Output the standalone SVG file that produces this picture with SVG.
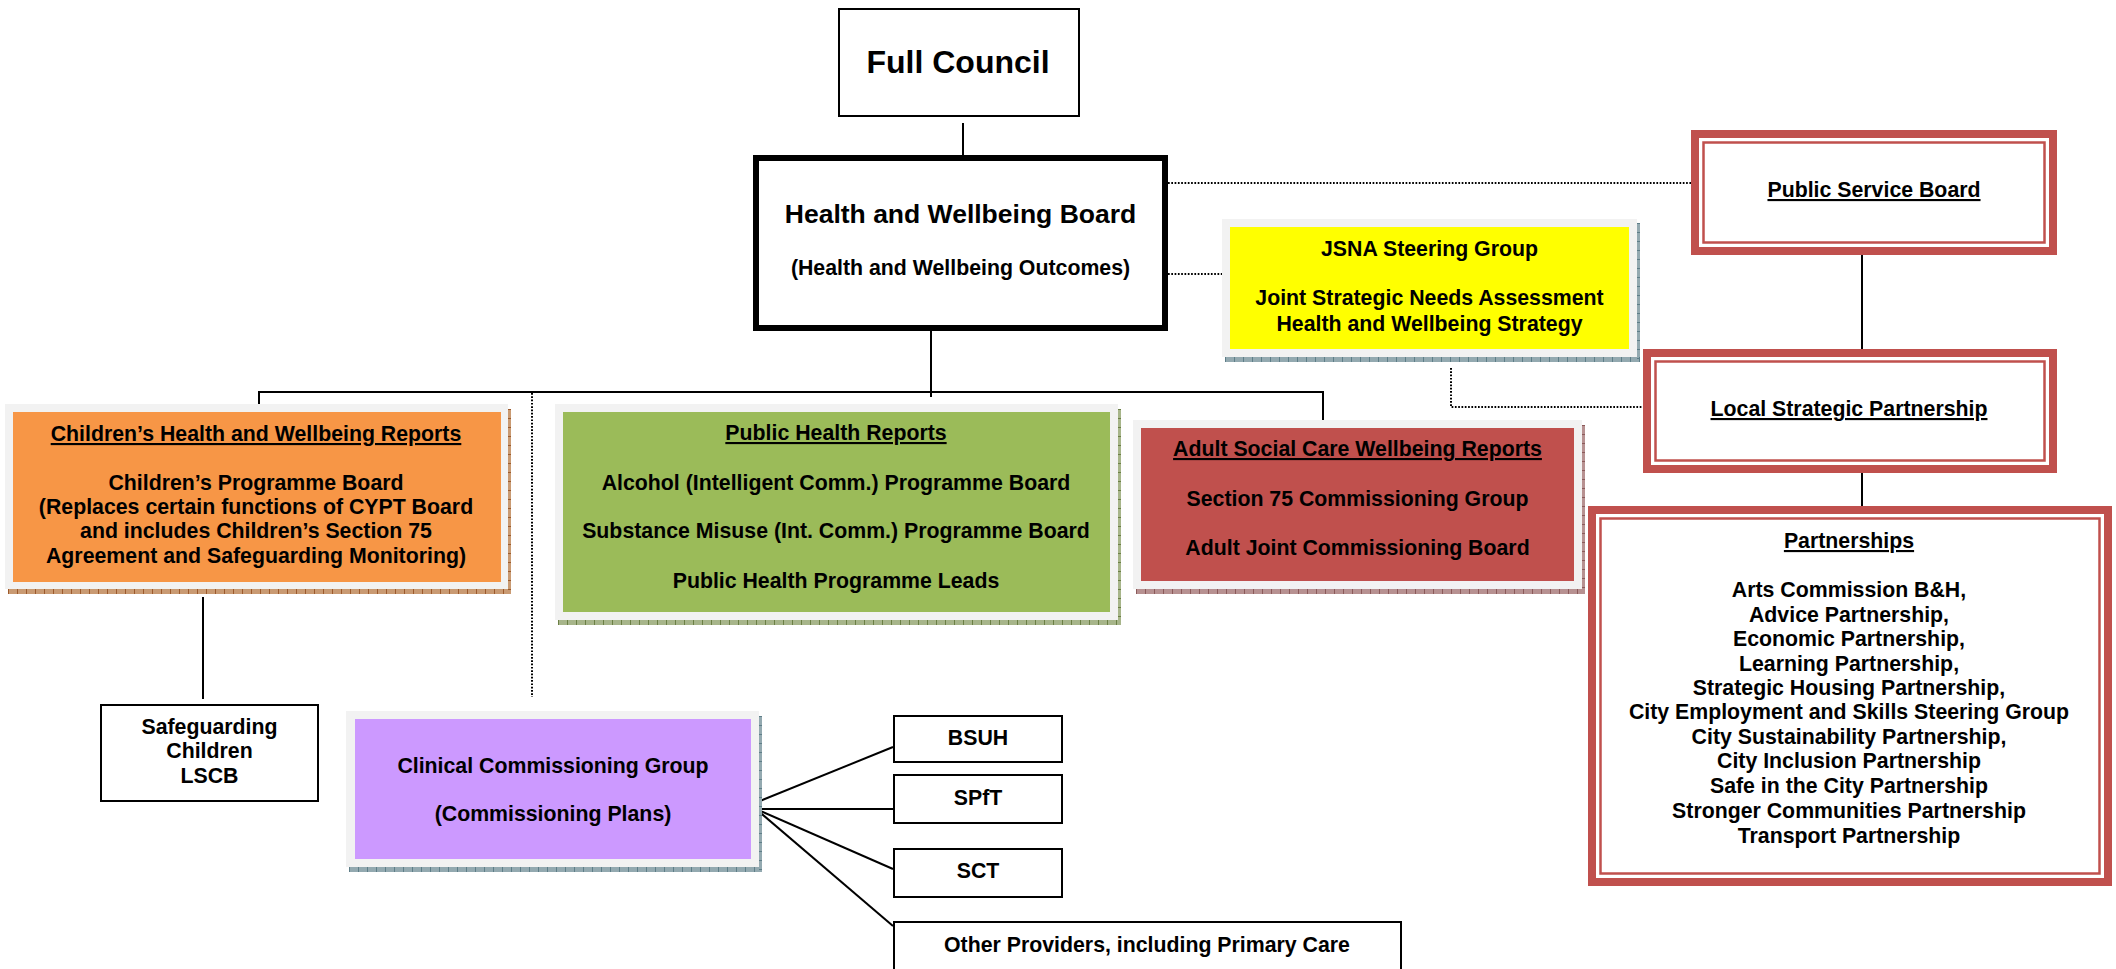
<svg xmlns="http://www.w3.org/2000/svg" width="2116" height="969" viewBox="0 0 2116 969">
<style>
.t{font-family:"Liberation Sans",Arial,sans-serif;font-weight:bold;font-size:21.3px;text-anchor:middle;fill:#000}
.u{text-decoration:underline}
.box{fill:#fff;stroke:#000;stroke-width:2}
.frame{fill:#F2F2F2}
.ln{stroke:#000;stroke-width:2;fill:none}
.dot{stroke:#000;stroke-width:2;stroke-dasharray:1.7 1.6;fill:none}
.ro{fill:#fff;stroke:#C0504D;stroke-width:8}
.ri{fill:none;stroke:#C0504D;stroke-width:2.5}
.sh-b{fill:none;stroke:#93A9B0}
.sh-o{fill:none;stroke:#C99A72}
.sh-g{fill:none;stroke:#A7B58A}
.sh-r{fill:none;stroke:#B79191}
.tk{fill:none;stroke-dasharray:1 8}
</style>
<rect width="2116" height="969" fill="#fff"/>

<g id="connectors">
<line class="ln" x1="963" y1="123" x2="963" y2="155"/>
<line class="ln" x1="931" y1="331" x2="931" y2="397"/>
<polyline class="ln" points="259,404 259,392 1323,392 1323,420"/>
<line class="ln" x1="203" y1="597" x2="203" y2="699"/>
<line class="dot" x1="532" y1="393" x2="532" y2="697"/>
<line class="dot" x1="1168" y1="183" x2="1691" y2="183"/>
<line class="dot" x1="1168" y1="274" x2="1222" y2="274"/>
<polyline class="dot" points="1451,368 1451,407 1645,407"/>
<line class="ln" x1="1862" y1="255" x2="1862" y2="349"/>
<line class="ln" x1="1862" y1="473" x2="1862" y2="506"/>
<line class="ln" x1="760" y1="801" x2="893" y2="747"/>
<line class="ln" x1="756" y1="809" x2="893" y2="809"/>
<line class="ln" x1="756" y1="809" x2="893" y2="869"/>
<line class="ln" x1="756" y1="809" x2="893" y2="926"/>
</g>

<g id="full-council">
<rect class="box" x="839" y="9" width="240" height="107"/>
<text class="t" x="958" y="73" style="font-size:32px">Full Council</text>
</g>

<g id="hwb">
<rect x="756" y="158" width="409" height="170" fill="#fff" stroke="#000" stroke-width="6"/>
<text class="t" x="960.5" y="223" style="font-size:26.5px">Health and Wellbeing Board</text>
<text class="t" x="960.5" y="275">(Health and Wellbeing Outcomes)</text>
</g>

<g id="jsna">
<line class="sh-b" x1="1638.5" y1="223" x2="1638.5" y2="362" stroke-width="3"/>
<line class="sh-b" x1="1225" y1="359.5" x2="1640" y2="359.5" stroke-width="5"/>
<line class="tk" x1="1638.5" y1="223" x2="1638.5" y2="362" stroke="#5E7E88" stroke-width="3"/>
<line class="tk" x1="1225" y1="359.5" x2="1640" y2="359.5" stroke="#5E7E88" stroke-width="5"/>
<rect class="frame" x="1222" y="219" width="415" height="138"/>
<rect x="1230" y="227" width="399" height="122" fill="#FFFF00"/>
<text class="t" x="1429.5" y="256">JSNA Steering Group</text>
<text class="t" x="1429.5" y="305">Joint Strategic Needs Assessment</text>
<text class="t" x="1429.5" y="331">Health and Wellbeing Strategy</text>
</g>

<g id="psb">
<rect class="ro" x="1695" y="134" width="358" height="117"/>
<rect class="ri" x="1703.5" y="142.5" width="341" height="100"/>
<text class="t u" x="1874" y="197">Public Service Board</text>
</g>

<g id="lsp">
<rect class="ro" x="1647" y="353" width="406" height="116"/>
<rect class="ri" x="1655.5" y="361.5" width="389" height="99"/>
<text class="t u" x="1849" y="416">Local Strategic Partnership</text>
</g>

<g id="partnerships">
<rect class="ro" x="1592" y="510" width="516" height="372"/>
<rect class="ri" x="1600.5" y="518.5" width="499" height="355"/>
<text class="t u" x="1849" y="548">Partnerships</text>
<text class="t" x="1849" y="597">Arts Commission B&amp;H,</text>
<text class="t" x="1849" y="622">Advice Partnership,</text>
<text class="t" x="1849" y="646">Economic Partnership,</text>
<text class="t" x="1849" y="671">Learning Partnership,</text>
<text class="t" x="1849" y="695">Strategic Housing Partnership,</text>
<text class="t" x="1849" y="719">City Employment and Skills Steering Group</text>
<text class="t" x="1849" y="744">City Sustainability Partnership,</text>
<text class="t" x="1849" y="768">City Inclusion Partnership</text>
<text class="t" x="1849" y="793">Safe in the City Partnership</text>
<text class="t" x="1849" y="818">Stronger Communities Partnership</text>
<text class="t" x="1849" y="843">Transport Partnership</text>
</g>

<g id="children">
<line class="sh-o" x1="509.5" y1="409" x2="509.5" y2="594" stroke-width="3"/>
<line class="sh-o" x1="8" y1="591.5" x2="511" y2="591.5" stroke-width="5"/>
<line class="tk" x1="509.5" y1="409" x2="509.5" y2="594" stroke="#9C5A2C" stroke-width="3"/>
<line class="tk" x1="8" y1="591.5" x2="511" y2="591.5" stroke="#9C5A2C" stroke-width="5"/>
<rect class="frame" x="5" y="404" width="503" height="185"/>
<rect x="13" y="412" width="488" height="170" fill="#F79646"/>
<text class="t u" x="256" y="441">Children’s Health and Wellbeing Reports</text>
<text class="t" x="256" y="490">Children’s Programme Board</text>
<text class="t" x="256" y="514">(Replaces certain functions of CYPT Board</text>
<text class="t" x="256" y="538">and includes Children’s Section 75</text>
<text class="t" x="256" y="563">Agreement and Safeguarding Monitoring)</text>
</g>

<g id="public-health">
<line class="sh-g" x1="1119.5" y1="409" x2="1119.5" y2="625" stroke-width="3"/>
<line class="sh-g" x1="558" y1="622.5" x2="1121" y2="622.5" stroke-width="5"/>
<line class="tk" x1="1119.5" y1="409" x2="1119.5" y2="625" stroke="#6B7F45" stroke-width="3"/>
<line class="tk" x1="558" y1="622.5" x2="1121" y2="622.5" stroke="#6B7F45" stroke-width="5"/>
<rect class="frame" x="555" y="404" width="563" height="216"/>
<rect x="563" y="412" width="547" height="200" fill="#9BBB59"/>
<text class="t u" x="836" y="440">Public Health Reports</text>
<text class="t" x="836" y="490">Alcohol (Intelligent Comm.) Programme Board</text>
<text class="t" x="836" y="538">Substance Misuse (Int. Comm.) Programme Board</text>
<text class="t" x="836" y="588">Public Health Programme Leads</text>
</g>

<g id="adult">
<line class="sh-r" x1="1583.5" y1="425" x2="1583.5" y2="594" stroke-width="3"/>
<line class="sh-r" x1="1136" y1="591.5" x2="1585" y2="591.5" stroke-width="5"/>
<line class="tk" x1="1583.5" y1="425" x2="1583.5" y2="594" stroke="#8B5A5A" stroke-width="3"/>
<line class="tk" x1="1136" y1="591.5" x2="1585" y2="591.5" stroke="#8B5A5A" stroke-width="5"/>
<rect class="frame" x="1133" y="420" width="449" height="169"/>
<rect x="1141" y="428" width="433" height="153" fill="#C0504D"/>
<text class="t u" x="1357.5" y="456">Adult Social Care Wellbeing Reports</text>
<text class="t" x="1357.5" y="506">Section 75 Commissioning Group</text>
<text class="t" x="1357.5" y="555">Adult Joint Commissioning Board</text>
</g>

<g id="safeguarding">
<rect class="box" x="101" y="705" width="217" height="96"/>
<text class="t" x="209.5" y="734">Safeguarding</text>
<text class="t" x="209.5" y="758">Children</text>
<text class="t" x="209.5" y="783">LSCB</text>
</g>

<g id="ccg">
<line class="sh-b" x1="760.5" y1="716" x2="760.5" y2="872" stroke-width="3"/>
<line class="sh-b" x1="349" y1="869.5" x2="762" y2="869.5" stroke-width="5"/>
<line class="tk" x1="760.5" y1="716" x2="760.5" y2="872" stroke="#5E7E88" stroke-width="3"/>
<line class="tk" x1="349" y1="869.5" x2="762" y2="869.5" stroke="#5E7E88" stroke-width="5"/>
<rect class="frame" x="346" y="711" width="413" height="156"/>
<rect x="355" y="719" width="396" height="140" fill="#CC99FF"/>
<text class="t" x="553" y="773">Clinical Commissioning Group</text>
<text class="t" x="553" y="821">(Commissioning Plans)</text>
</g>

<g id="bsuh">
<rect class="box" x="894" y="716" width="168" height="46"/>
<text class="t" x="978" y="745">BSUH</text>
</g>
<g id="spft">
<rect class="box" x="894" y="775" width="168" height="48"/>
<text class="t" x="978" y="805">SPfT</text>
</g>
<g id="sct">
<rect class="box" x="894" y="849" width="168" height="48"/>
<text class="t" x="978" y="878">SCT</text>
</g>
<g id="other">
<rect class="box" x="894" y="922" width="507" height="60"/>
<text class="t" x="1147" y="952">Other Providers, including Primary Care</text>
</g>
</svg>
